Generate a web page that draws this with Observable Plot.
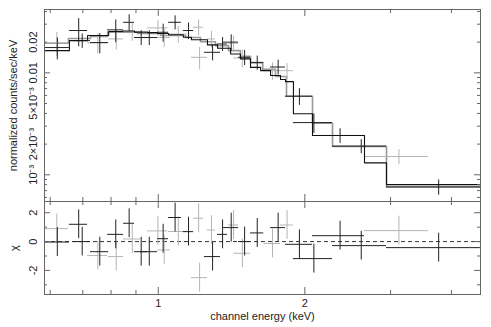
<!DOCTYPE html>
<html><head><meta charset="utf-8">
<script src="https://cdn.jsdelivr.net/npm/d3@7"></script>
<script src="https://cdn.jsdelivr.net/npm/@observablehq/plot@0.6"></script>
<style>
body{margin:0;background:#fff;}
#c{position:relative;width:491px;height:327px;overflow:hidden;}
#c svg{position:absolute;left:0;display:block;}
</style></head><body><div id="c"></div>
<script>
// ---- data: dark data set (bins in keV, flux in counts/s/keV, residual chi) ----
const blackLo   = [0.584,0.657,0.670,0.726,0.787,0.849,0.894,0.920,0.997,1.050,1.126,1.244,1.324,1.362,1.462,1.547,1.701,1.825,1.895,2.074,2.280,2.943];
const blackHi   = [0.657,0.716,0.726,0.791,0.849,0.894,0.951,0.997,1.050,1.116,1.182,1.342,1.387,1.462,1.547,1.647,1.825,2.074,2.280,2.652,2.943,4.589];
const blackFlux = [0.0177,0.0260,0.0207,0.0198,0.0264,0.0313,0.0222,0.0222,0.0250,0.0313,0.0260,0.0159,0.0192,0.0200,0.0142,0.0126,0.0114,0.0059,0.00325,0.00243,0.00191,0.00076];
const blackErr  = [0.0043,0.0080,0.0033,0.0044,0.0066,0.0058,0.0037,0.0037,0.0050,0.0049,0.0048,0.0028,0.0030,0.0036,0.0024,0.0020,0.0019,0.0011,0.0007,0.0004,0.0003,0.00013];
const blackChi  = [-0.03,1.2,0.0,-0.7,0.5,1.27,-0.7,-0.7,0.2,1.67,0.69,-1.04,0.5,0.97,0.0,0.6,0.97,-0.19,-1.18,0.41,-0.28,-0.42];

// ---- data: light data set ----
const grayLo   = [0.584,0.716,0.791,0.849,0.951,0.997,1.050,1.170,1.182,1.262,1.394,1.430,1.650,1.783,2.652];
const grayHi   = [0.654,0.787,0.849,0.920,1.046,1.060,1.149,1.262,1.239,1.310,1.462,1.547,1.783,1.895,3.590];
const grayFlux = [0.0197,0.0197,0.0215,0.0254,0.0276,0.0222,0.0240,0.0142,0.0280,0.0215,0.0195,0.0140,0.0105,0.0105,0.00151];
const grayErr  = [0.0052,0.0044,0.0048,0.0050,0.0050,0.0045,0.0045,0.0035,0.0050,0.0040,0.0035,0.0028,0.0020,0.0018,0.00025];
const grayChi  = [0.9,-0.97,-1.04,0.18,0.74,-0.58,0.7,-2.5,1.62,0.8,1.15,-0.81,-0.13,1.15,0.76];

// ---- folded model step functions ----
const blackModelEdges = [0.584,0.657,0.716,0.791,0.845,0.894,0.951,0.997,1.050,1.126,1.170,1.262,1.324,1.408,1.475,1.547,1.623,1.701,1.783,1.825,1.895,2.074,2.652,2.943,4.589];
const blackModel      = [0.0165,0.0207,0.0232,0.0254,0.0257,0.0251,0.0248,0.0243,0.0236,0.0223,0.0211,0.0188,0.0174,0.0153,0.0137,0.0113,0.0105,0.0094,0.0086,0.0082,0.00397,0.00243,0.00131,0.00080];
const grayModelEdges  = [0.584,0.654,0.726,0.787,0.907,1.011,1.138,1.221,1.311,1.394,1.475,1.547,1.639,1.741,1.834,2.074,2.280,2.943,4.589];
const grayModel       = [0.0195,0.0217,0.0227,0.0251,0.0243,0.0232,0.0222,0.0202,0.0185,0.0165,0.0145,0.0126,0.0108,0.0092,0.0059,0.0032,0.0019,0.00076];

// ---- axes ----
const xDomain = [0.584, 4.59];
const xLabelTicks = [1, 2];
const xLabels = ["1", "2"];
const xMinorTicks = [0.6, 0.7, 0.8, 0.9, 3, 4];
const yTopDomain = [5.47e-4, 0.0418];
const yTopLabelTicks = [0.02, 0.01, 0.005, 0.002, 0.001];
const yTopLabels = ["0.02", "0.01", "5×10⁻³", "2×10⁻³", "10⁻³"];
const yTopLongTicks = [0.01, 0.001];
const yTopShortTicks = [0.04, 0.03, 0.02, 0.009, 0.008, 0.007, 0.006, 0.005, 0.004, 0.003, 0.002, 0.0009, 0.0008, 0.0007, 0.0006];
const chiDomain = [-3.67, 2.78];
const chiLabelTicks = [-2, 0, 2];
const chiLabels = ["-2", "0", "2"];
const chiMinorTicks = [-3, -1, 1];

const yTitle = "normalized counts/sec/keV";
const chiTitle = "χ";
const xTitle = "channel energy (keV)";

// ---- build ----
const W = 491, ML = 44, MR = 11, FW = W - ML - MR;
const rows = (lo, hi, f, e, c) => lo.map((l, i) => ({lo: l, hi: hi[i], mid: (l + hi[i]) / 2, f: f[i], e: e[i], chi: c[i]}));
const blackRows = rows(blackLo, blackHi, blackFlux, blackErr, blackChi);
const grayRows = rows(grayLo, grayHi, grayFlux, grayErr, grayChi);
const steps = (edges, vals) => { const p = vals.map((v, i) => ({x: edges[i], y: v})); p.push({x: edges[edges.length - 1], y: vals[vals.length - 1]}); return p; };

const FRAME = "#666", TXT = "#222", DARK = "#222", LIGHT = "#b5b5b5";
const font = {fontFamily: "'Liberation Sans', Arial, Helvetica, sans-serif", fontSize: "11px", background: "transparent", overflow: "visible"};

function xTicks(FH) {
  return [
    Plot.tickX(xLabelTicks, {x: d => d, insetBottom: FH - 7, stroke: FRAME}),
    Plot.tickX(xLabelTicks, {x: d => d, insetTop: FH - 7, stroke: FRAME}),
    Plot.tickX(xMinorTicks, {x: d => d, insetBottom: FH - 4, stroke: FRAME}),
    Plot.tickX(xMinorTicks, {x: d => d, insetTop: FH - 4, stroke: FRAME})
  ];
}
function yTicks(vals, len) {
  return [
    Plot.tickY(vals, {y: d => d, insetRight: FW - len, stroke: FRAME}),
    Plot.tickY(vals, {y: d => d, insetLeft: FW - len, stroke: FRAME})
  ];
}

const FH1 = 192;
const topPlot = Plot.plot({
  width: W, height: 203, marginTop: 9, marginBottom: 2, marginLeft: ML, marginRight: MR,
  x: {type: "log", domain: xDomain, axis: null},
  y: {type: "log", domain: yTopDomain, axis: null},
  style: font,
  marks: [
    Plot.line(steps(grayModelEdges, grayModel), {x: "x", y: "y", curve: "step-after", stroke: "#999", strokeWidth: 1.6, clip: true}),
    Plot.ruleY(grayRows, {y: "f", x1: "lo", x2: "hi", stroke: LIGHT, clip: true}),
    Plot.ruleX(grayRows, {x: "mid", y1: d => d.f - d.e, y2: d => d.f + d.e, stroke: LIGHT, clip: true}),
    Plot.ruleY(blackRows, {y: "f", x1: "lo", x2: "hi", stroke: DARK, clip: true}),
    Plot.ruleX(blackRows, {x: "mid", y1: d => d.f - d.e, y2: d => d.f + d.e, stroke: DARK, clip: true}),
    Plot.line(steps(blackModelEdges, blackModel), {x: "x", y: "y", curve: "step-after", stroke: "#111", strokeWidth: 1.1, clip: true}),
    ...xTicks(FH1),
    ...yTicks(yTopLongTicks, 6),
    ...yTicks(yTopShortTicks, 3),
    Plot.frame({stroke: FRAME}),
    Plot.text(yTopLabelTicks.map((v, i) => ({v, t: yTopLabels[i]})), {y: "v", text: "t", frameAnchor: "left", dx: -11, rotate: -90, textAnchor: "middle", lineAnchor: "middle", fill: TXT}),
    Plot.text([yTitle], {text: d => d, frameAnchor: "left", dx: -31, rotate: -90, textAnchor: "middle", lineAnchor: "middle", fill: TXT})
  ]
});

const FH2 = 93;
const botPlot = Plot.plot({
  width: W, height: 128, marginTop: 2, marginBottom: 33, marginLeft: ML, marginRight: MR,
  x: {type: "log", domain: xDomain, axis: null},
  y: {domain: chiDomain, axis: null},
  style: font,
  marks: [
    Plot.ruleY([0], {stroke: "#333", strokeDasharray: "4,3"}),
    Plot.ruleY(grayRows, {y: "chi", x1: "lo", x2: "hi", stroke: LIGHT, clip: true}),
    Plot.ruleX(grayRows, {x: "mid", y1: d => d.chi - 1, y2: d => d.chi + 1, stroke: LIGHT, clip: true}),
    Plot.ruleY(blackRows, {y: "chi", x1: "lo", x2: "hi", stroke: DARK, clip: true}),
    Plot.ruleX(blackRows, {x: "mid", y1: d => d.chi - 1, y2: d => d.chi + 1, stroke: DARK, clip: true}),
    ...xTicks(FH2),
    ...yTicks(chiLabelTicks, 6),
    ...yTicks(chiMinorTicks, 3),
    Plot.frame({stroke: FRAME}),
    Plot.text(chiLabelTicks.map((v, i) => ({v, t: chiLabels[i]})), {y: "v", text: "t", frameAnchor: "left", dx: -11, rotate: -90, textAnchor: "middle", lineAnchor: "middle", fill: TXT}),
    Plot.text(xLabelTicks.map((v, i) => ({v, t: xLabels[i]})), {x: "v", text: "t", frameAnchor: "bottom", dy: 9, textAnchor: "middle", lineAnchor: "middle", fill: TXT}),
    Plot.text([chiTitle], {text: d => d, frameAnchor: "left", dx: -30, rotate: -90, textAnchor: "middle", lineAnchor: "middle", fill: TXT}),
    Plot.text([xTitle], {text: d => d, frameAnchor: "bottom", dy: 22, textAnchor: "middle", lineAnchor: "middle", fill: TXT})
  ]
});

const c = document.getElementById("c");
topPlot.style.top = "0px";
botPlot.style.top = "199px";
c.appendChild(topPlot);
c.appendChild(botPlot);
</script>
</body></html>
